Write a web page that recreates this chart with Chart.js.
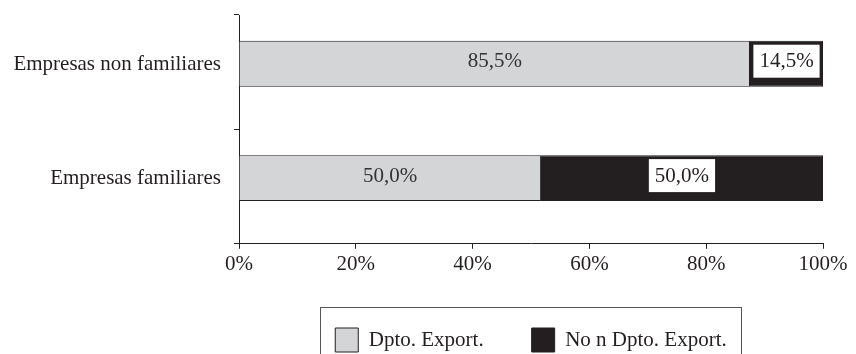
<!DOCTYPE html>
<html>
<head>
<meta charset="utf-8">
<script src="https://cdn.jsdelivr.net/npm/chart.js@4/dist/chart.umd.min.js"></script>
<style>
	html, body { margin: 0; padding: 0; background: #fff; }
	#wrap { width: 856px; height: 354px; overflow: hidden; }
</style>
</head>
<body>
<div id="wrap"><canvas id="chart" width="856" height="354"></canvas></div>
<script>
// categories, top to bottom
var categories = ['Empresas non familiares', 'Empresas familiares'];
// bar lengths as drawn (%)
var dptoExport = [87.5, 51.7];
var noDptoExport = [12.5, 48.3];
// printed labels
var dptoLabels = ['85,5%', '50,0%'];
var noDptoLabels = ['14,5%', '50,0%'];
var seriesNames = ['Dpto. Export.', 'No n Dpto. Export.'];
var xTicks = [0, 20, 40, 60, 80, 100];

var ink = '#231f20';
Chart.defaults.font.family = "'Liberation Serif', 'Times New Roman', serif";
Chart.defaults.font.size = 21;
Chart.defaults.color = ink;

// etiquetas de valores dentro de las barras
var barLabels = {
	id: 'barLabels',
	afterDatasetsDraw: function (chart) {
		var ctx = chart.ctx;
		var texts = [dptoLabels, noDptoLabels];
		ctx.save();
		ctx.font = "21px 'Liberation Serif'";
		ctx.textAlign = 'center';
		ctx.textBaseline = 'middle';
		for (var d = 0; d < 2; d++) {
			chart.getDatasetMeta(d).data.forEach(function (bar, i) {
				var cx = (bar.x + bar.base) / 2;
				var cy = bar.y;
				var t = texts[d][i];
				if (d === 1) {
					var w = ctx.measureText(t).width + 12;
					ctx.fillStyle = '#fff';
					ctx.fillRect(cx - w / 2, cy - 19, w, 33);
					ctx.fillStyle = ink;
				} else {
					ctx.fillStyle = '#333';
				}
				ctx.fillText(t, cx, cy - 2);
			});
		}
		ctx.restore();
	}
};

// marco de la leyenda
var legendFrame = {
	id: 'legendFrame',
	afterDraw: function (chart) {
		var hb = chart.legend.legendHitBoxes;
		if (!hb || !hb.length) return;
		var last = hb[hb.length - 1];
		var left = hb[0].left - 15;
		var right = last.left + last.width + 15;
		var top = hb[0].top - 21;
		var ctx = chart.ctx;
		ctx.save();
		ctx.strokeStyle = '#555';
		ctx.lineWidth = 1;
		ctx.strokeRect(Math.round(left) + 0.5, Math.round(top) + 0.5, Math.round(right - left), chart.height - top + 10);
		ctx.restore();
	}
};

new Chart(document.getElementById('chart'), {
	type: 'bar',
	data: {
		labels: categories,
		datasets: [
			{
				label: seriesNames[0],
				data: dptoExport,
				stack: 'main',
				backgroundColor: '#d4d5d7',
				borderColor: ink,
				borderWidth: 1
			},
			{
				label: seriesNames[1],
				data: noDptoExport,
				stack: 'main',
				backgroundColor: ink,
				borderColor: ink,
				borderWidth: 1
			},
			{
				// hueco vacío para subir un poco las barras
				label: '',
				data: [0, 0],
				stack: 'pad',
				backgroundColor: 'rgba(0,0,0,0)',
				borderWidth: 0
			}
		]
	},
	options: {
		indexAxis: 'y',
		responsive: false,
		animation: false,
		categoryPercentage: 0.297,
		barPercentage: 2.7,
		layout: { padding: { top: 15, right: 33, left: 0, bottom: -8 } },
		scales: {
			x: {
				stacked: true,
				min: 0,
				max: 100,
				afterBuildTicks: function (scale) {
					scale.ticks = xTicks.map(function (v) { return { value: v }; });
				},
				ticks: {
					padding: 3,
					callback: function (v) { return v + '%'; }
				},
				grid: { drawOnChartArea: false, tickLength: 5, color: ink },
				border: { color: ink, width: 1 }
			},
			y: {
				stacked: true,
				afterFit: function (scale) {
					scale.width = 239;
					scale.paddingTop = 0;
					scale.paddingBottom = 0;
				},
				ticks: { padding: 13, labelOffset: -8 },
				grid: { drawOnChartArea: false, offset: true, tickLength: 5, color: ink },
				border: { color: ink, width: 1 }
			}
		},
		plugins: {
			tooltip: { enabled: false },
			legend: {
				position: 'bottom',
				fullSize: false,
				labels: {
					boxWidth: 23,
					boxHeight: 24,
					padding: 48,
					filter: function (item) { return item.datasetIndex < 2; }
				}
			}
		}
	},
	plugins: [barLabels, legendFrame]
});
</script>
</body>
</html>
